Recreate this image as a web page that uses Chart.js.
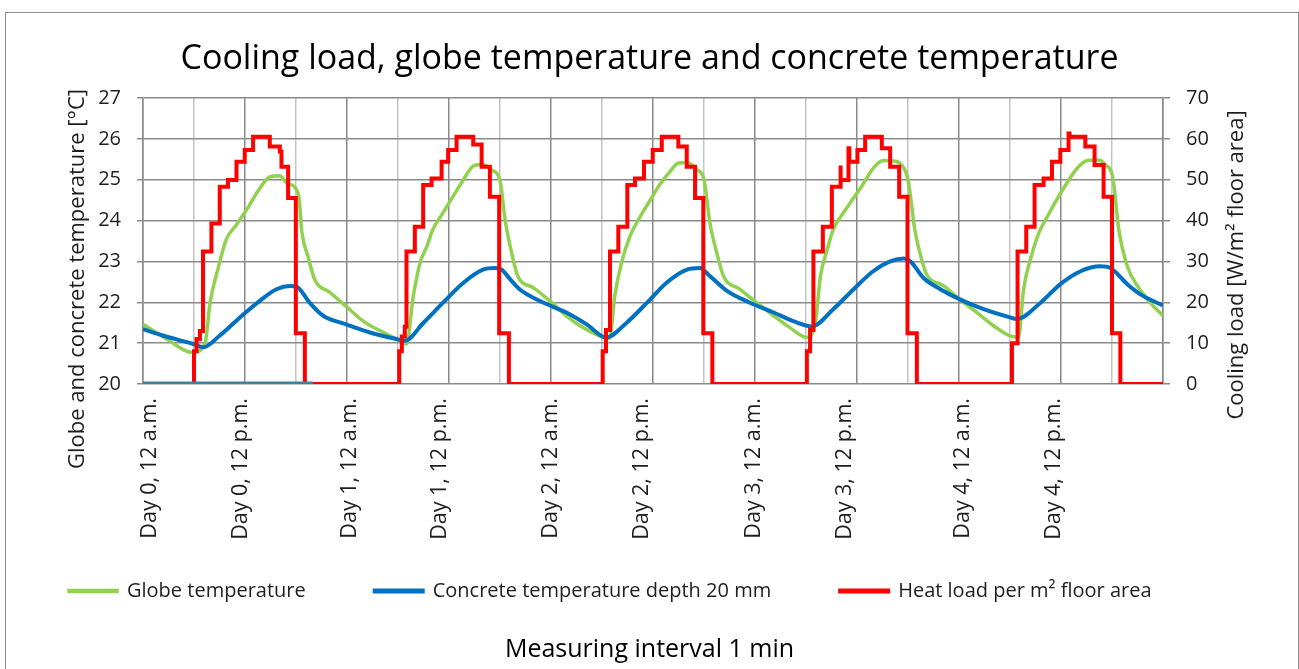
<!DOCTYPE html>
<html>
<head>
<meta charset="utf-8">
<title>Cooling load, globe temperature and concrete temperature</title>
<script src="https://cdn.jsdelivr.net/npm/chart.js@4.4.1/dist/chart.umd.min.js"></script>
<style>
  html, body { margin: 0; padding: 0; background: #fff; overflow: hidden; }
  #frame {
    position: absolute; left: 5px; top: 12px; width: 1294px; height: 700px;
    border: 1.5px solid #8c8c8c; box-sizing: border-box;
  }
  #wrap { position: absolute; left: 0; top: 0; width: 1299px; height: 669px; }
</style>
</head>
<body>
<div id="frame"></div>
<div id="wrap"><canvas id="chart" width="1299" height="669"></canvas></div>
<script>
// ─── DATA (x = hours from start of Day 0) ─────────────
const tickHours = [0.8, 11.5, 24.3, 34.9, 48.0, 58.7, 71.9, 82.6, 96.5, 107.2];
const tickLabels = [
  'Day 0, 12 a.m.', 'Day 0, 12 p.m.', 'Day 1, 12 a.m.', 'Day 1, 12 p.m.',
  'Day 2, 12 a.m.', 'Day 2, 12 p.m.', 'Day 3, 12 a.m.', 'Day 3, 12 p.m.',
  'Day 4, 12 a.m.', 'Day 4, 12 p.m.'
];

// globe temperature [°C]
const globeTemp = [
  [0, 21.46], [2.5, 21.14], [5.9, 20.77], [7.3, 21.0], [7.9, 22.0], [8.8, 22.8],
  [9.8, 23.54], [11.0, 23.9], [12.2, 24.27], [13.5, 24.71], [14.9, 25.07], [16.1, 25.1],
  [16.9, 24.92], [18.3, 24.63], [18.7, 23.7], [19.4, 23.13], [20.2, 22.56], [22.0, 22.24],
  [23.9, 21.9], [25.9, 21.54], [28.3, 21.26], [30.2, 21.06], [31.0, 20.98], [31.8, 22.15],
  [32.6, 22.97], [33.4, 23.37], [34.1, 23.78], [35.3, 24.19], [36.5, 24.6], [37.7, 25.0],
  [38.9, 25.34], [40.0, 25.37], [41.0, 25.24], [42.0, 24.98], [42.6, 24.02], [43.2, 23.37],
  [44.1, 22.64], [45.9, 22.36], [47.9, 22.03], [49.8, 21.67], [51.8, 21.38], [54.2, 21.14],
  [54.9, 21.12], [55.5, 22.15], [56.3, 22.97], [57.3, 23.62], [58.5, 24.1], [59.7, 24.51],
  [60.8, 24.88], [62.0, 25.2], [63.0, 25.41], [64.0, 25.42], [65.2, 25.24], [66.0, 25.0],
  [66.7, 23.94], [67.5, 23.21], [68.3, 22.64], [70.2, 22.32], [72.2, 21.99], [74.2, 21.67],
  [76.1, 21.38], [78.1, 21.14], [79.1, 21.5], [79.7, 22.64], [80.5, 23.29], [81.2, 23.78],
  [82.4, 24.19], [83.6, 24.55], [84.8, 24.92], [85.9, 25.28], [87.1, 25.47], [88.3, 25.46],
  [89.2, 25.37], [90.0, 25.0], [90.8, 23.78], [91.6, 23.05], [92.2, 22.68], [94.2, 22.4],
  [96.1, 22.07], [98.1, 21.75], [100.1, 21.42], [102.0, 21.18], [103.0, 21.15], [103.6, 22.32],
  [104.4, 23.05], [105.4, 23.7], [106.4, 24.1], [107.5, 24.51], [108.7, 24.92], [109.9, 25.28],
  [111.1, 25.47], [112.4, 25.48], [113.2, 25.37], [114.1, 25.04], [114.8, 23.78], [115.8, 22.88],
  [117.0, 22.4], [118.5, 21.99], [120.0, 21.67]
];

// concrete temperature, depth 20 mm [°C]
const concreteTemp = [
  [0, 21.34], [2.4, 21.18], [5.9, 20.98], [7.1, 20.9], [9.0, 21.18], [11.4, 21.63],
  [13.7, 22.03], [15.7, 22.32], [17.3, 22.4], [18.1, 22.38], [19.6, 21.99], [21.2, 21.67],
  [23.9, 21.46], [26.7, 21.26], [29.8, 21.1], [30.8, 21.06], [33.0, 21.5], [35.3, 21.99],
  [37.7, 22.48], [40.0, 22.8], [41.4, 22.84], [42.2, 22.8], [43.2, 22.56], [44.3, 22.32],
  [46.7, 22.03], [49.8, 21.75], [52.2, 21.46], [54.5, 21.14], [56.9, 21.5], [59.3, 21.99],
  [61.6, 22.48], [64.0, 22.8], [65.5, 22.84], [66.7, 22.64], [68.7, 22.28], [71.4, 21.99],
  [74.2, 21.75], [76.5, 21.54], [78.7, 21.41], [81.2, 21.83], [83.6, 22.32], [85.9, 22.76],
  [87.9, 23.0], [89.5, 23.07], [90.3, 23.0], [91.8, 22.6], [93.8, 22.32], [96.1, 22.07],
  [98.9, 21.83], [102.0, 21.63], [102.8, 21.59], [105.6, 21.99], [107.9, 22.44], [110.3, 22.76],
  [112.6, 22.88], [113.8, 22.84], [115.8, 22.44], [117.3, 22.2], [120.0, 21.92]
];

// heat load per m² floor area [W/m²] (stepped)
const heatLoad = [
  [0, 0], [6.0, 0], [6.0, 8], [6.3, 8], [6.3, 11], [6.7, 11], [6.7, 13], [7.06, 13],
  [7.06, 32.4], [8.05, 32.4], [8.05, 39.3], [9.03, 39.3], [9.03, 48.3], [10.0, 48.3],
  [10.0, 49.9], [11.0, 49.9], [11.0, 54.4], [11.97, 54.4], [11.97, 57.3], [12.95, 57.3],
  [12.95, 60.5], [14.92, 60.5], [14.92, 58.1], [16.1, 58.1], [16.1, 56.9], [16.29, 56.9],
  [16.29, 53.2], [17.07, 53.2], [17.07, 45.5], [17.98, 45.5], [17.98, 12.4], [19.04, 12.4],
  [19.04, 0],
  [30.14, 0], [30.14, 8], [30.45, 8], [30.45, 11.6], [30.8, 11.6], [30.8, 14], [31.0, 14],
  [31.0, 32.4], [31.98, 32.4], [31.98, 38.5], [32.96, 38.5], [32.96, 48.7], [33.95, 48.7],
  [33.95, 50.3], [35.13, 50.3], [35.13, 54.4], [35.9, 54.4], [35.9, 57.3], [36.89, 57.3],
  [36.89, 60.5], [38.85, 60.5], [38.85, 58.6], [39.84, 58.6], [39.84, 53.2], [40.81, 53.2],
  [40.81, 45.8], [41.9, 45.8], [41.9, 12.4], [43.05, 12.4], [43.05, 0],
  [54.08, 0], [54.08, 8], [54.47, 8], [54.47, 13.2], [54.94, 13.2], [54.94, 32.4],
  [55.92, 32.4], [55.92, 38.5], [56.98, 38.5], [56.98, 48.7], [57.88, 48.7], [57.88, 50.3],
  [58.94, 50.3], [58.94, 54.4], [59.97, 54.4], [59.97, 57.3], [61.03, 57.3], [61.03, 60.5],
  [62.98, 60.5], [62.98, 58.1], [63.97, 58.1], [63.97, 53.2], [64.95, 53.2], [64.95, 45.5],
  [65.92, 45.5], [65.92, 12.4], [66.98, 12.4], [66.98, 0],
  [78.1, 0], [78.1, 8], [78.48, 8], [78.48, 13.2], [78.87, 13.2], [78.87, 32.4],
  [79.98, 32.4], [79.98, 38.5], [81.04, 38.5], [81.04, 48.3], [82.02, 48.3], [82.02, 53.5],
  [82.1, 53.5], [82.1, 49.9], [83.0, 49.9], [83.0, 57.7], [83.1, 57.7], [83.1, 54.4],
  [84.05, 54.4], [84.05, 57.3], [84.96, 57.3], [84.96, 60.5], [86.92, 60.5], [86.92, 57.7],
  [87.9, 57.7], [87.9, 53.2], [88.96, 53.2], [88.96, 45.8], [89.94, 45.8], [89.94, 12.4],
  [91.04, 12.4], [91.04, 0],
  [102.23, 0], [102.23, 10], [102.89, 10], [102.89, 32.4], [103.91, 32.4], [103.91, 38.5],
  [104.89, 38.5], [104.89, 48.7], [105.95, 48.7], [105.95, 50.3], [106.94, 50.3], [106.94, 54.4],
  [107.92, 54.4], [107.92, 57.3], [108.89, 57.3], [108.89, 61.3], [109.0, 61.3], [109.0, 60.5],
  [110.86, 60.5], [110.86, 58.1], [111.95, 58.1], [111.95, 53.6], [113.01, 53.6], [113.01, 45.8],
  [114.0, 45.8], [114.0, 12.4], [114.98, 12.4], [114.98, 0], [120.0, 0]
];

// short stray series lying on the zero line at the start
const baseTrace = [[0, 0], [20.0, 0]];

// ─── STYLE ────────────────────────────────────────────
const FONT = '"Open Sans", "Noto Sans", sans-serif';
const GRID_DARK = '#8a8a8a';
const GRID_LIGHT = '#c4c4c4';
const TEXT = '#1e1e1e';
const LEGEND_PAD = 69;     // gap between legend items
const LEGEND_SHIFT = 28;   // pull legend up into the empty part of the label axis

// axis titles drawn reading bottom-to-top on both sides
const axisTitles = {
  id: 'axisTitles',
  afterLayout(chart) {
    chart.legend.top -= LEGEND_SHIFT;
    chart.legend.bottom -= LEGEND_SHIFT;
  },
  afterDraw(chart) {
    const { ctx, chartArea } = chart;
    const mid = (chartArea.top + chartArea.bottom) / 2;
    const items = [
      [chart.scales.y, chartArea.left - 65, mid + 38],
      [chart.scales.y1, chartArea.right + 74, mid + 24]
    ];
    ctx.save();
    ctx.font = '22px ' + FONT;
    ctx.fillStyle = TEXT;
    ctx.textAlign = 'center';
    ctx.textBaseline = 'middle';
    items.forEach(([scale, x, y]) => {
      ctx.save();
      ctx.translate(x, y);
      ctx.rotate(-Math.PI / 2);
      ctx.fillText(scale.options.title.text, 0, 0);
      ctx.restore();
    });
    ctx.restore();
  }
};

new Chart(document.getElementById('chart'), {
  type: 'line',
  data: {
    datasets: [
      {
        label: 'Globe temperature', data: globeTemp, yAxisID: 'y', xAxisID: 'x',
        borderColor: '#92d050', backgroundColor: '#92d050', borderWidth: 3.5,
        pointRadius: 0, cubicInterpolationMode: 'monotone', order: 3
      },
      {
        label: 'Concrete temperature depth 20 mm', data: concreteTemp, yAxisID: 'y', xAxisID: 'x',
        borderColor: '#0070c0', backgroundColor: '#0070c0', borderWidth: 4,
        pointRadius: 0, cubicInterpolationMode: 'monotone', order: 2
      },
      {
        label: 'Heat load per m² floor area', data: heatLoad, yAxisID: 'y1', xAxisID: 'x',
        borderColor: '#ff0000', backgroundColor: '#ff0000', borderWidth: 4,
        pointRadius: 0, tension: 0, borderJoinStyle: 'miter', order: 1
      },
      {
        label: '', data: baseTrace, yAxisID: 'y1', xAxisID: 'x',
        borderColor: '#41809f', backgroundColor: '#41809f', borderWidth: 5,
        pointRadius: 0, order: 0
      }
    ]
  },
  options: {
    responsive: false,
    devicePixelRatio: 1,
    animation: false,
    layout: { padding: 0 },
    plugins: {
      tooltip: { enabled: false },
      title: {
        display: true,
        text: 'Cooling load, globe temperature and concrete temperature',
        color: '#000',
        font: { family: FONT, size: 34, weight: 'normal' },
        padding: { top: 38.6, bottom: 18.6 }
      },
      subtitle: {
        display: true,
        position: 'bottom',
        text: 'Measuring interval 1 min',
        color: '#000',
        font: { family: FONT, size: 25, weight: 'normal' },
        padding: { top: 2, bottom: 4 }
      },
      legend: {
        position: 'bottom',
        align: 'start',
        maxHeight: 93,
        labels: {
          boxWidth: 48,
          boxHeight: 1,
          padding: LEGEND_PAD,
          color: TEXT,
          font: { family: FONT, size: 20 },
          filter: item => item.text !== '',
          sort: (a, b) => a.datasetIndex - b.datasetIndex
        }
      }
    },
    scales: {
      x: {
        type: 'linear', position: 'bottom', min: 0, max: 120,
        ticks: { display: false, stepSize: 6 },
        grid: {
          drawTicks: false, lineWidth: 1.5,
          color: c => (c.index % 2 ? GRID_LIGHT : GRID_DARK)
        },
        border: { display: false }
      },
      xLabels: {
        type: 'linear', position: 'bottom', min: 0, max: 120,
        afterBuildTicks: s => { s.ticks = tickHours.map(v => ({ value: v })); },
        afterFit: s => { s.height = 156; },
        ticks: {
          autoSkip: false, minRotation: 90, maxRotation: 90, padding: 14,
          color: TEXT, font: { family: FONT, size: 21.5 },
          callback: (v, i) => tickLabels[i]
        },
        grid: { display: false, drawTicks: false },
        border: { display: false }
      },
      y: {
        position: 'left', min: 20, max: 27,
        afterFit: s => { s.width = 143; },
        title: { display: false, text: 'Globe and concrete temperature [°C]' },
        ticks: { stepSize: 1, padding: 16, color: TEXT, font: { family: FONT, size: 20 } },
        grid: { color: GRID_DARK, lineWidth: 1.5, tickLength: 6 },
        border: { color: GRID_DARK, width: 1.5 }
      },
      y1: {
        position: 'right', min: 0, max: 70,
        afterFit: s => { s.width = 136; },
        title: { display: false, text: 'Cooling load [W/m² floor area]' },
        ticks: { stepSize: 10, padding: 16, color: TEXT, font: { family: FONT, size: 20 } },
        grid: { drawOnChartArea: false, color: GRID_DARK, lineWidth: 1.5, tickLength: 7 },
        border: { color: GRID_DARK, width: 1.5 }
      }
    }
  },
  plugins: [axisTitles]
});
</script>
</body>
</html>
